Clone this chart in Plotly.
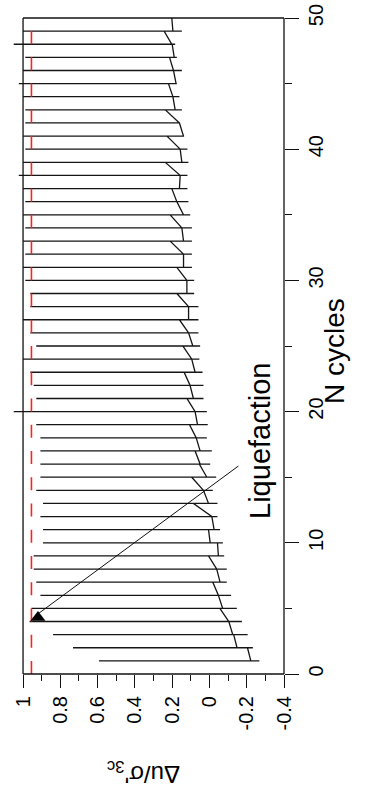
import plotly.graph_objects as go

# ---------------- data ----------------
cycles = list(range(1, 50))
peak = [0.593, 0.732, 0.839, 0.965, 0.955, 0.907, 0.929, 0.943, 0.943, 0.893,
        0.893, 0.907, 0.893, 0.929, 0.907, 0.907, 0.907, 0.907, 0.929, 1.05,
        0.929, 0.943, 0.961, 1.0, 0.929, 0.961, 1.0, 0.961, 0.961, 0.988,
        1.0, 0.988, 1.0, 0.988, 1.0, 0.988, 1.0, 1.023, 1.0, 0.988,
        1.0, 0.988, 0.988, 1.0, 1.023, 1.0, 0.988, 1.05, 1.0]
trough = [-0.268, -0.233, -0.205, -0.174, -0.147, -0.116, -0.093, -0.093, -0.079, -0.072,
          -0.057, -0.043, -0.043, -0.018, -0.036, -0.004, -0.013, 0.014, 0.009, 0.014,
          0.032, 0.032, 0.037, 0.054, 0.050, 0.059, 0.059, 0.059, 0.082, 0.082,
          0.094, 0.094, 0.094, 0.094, 0.103, 0.113, 0.118, 0.118, 0.113, 0.118,
          0.136, 0.171, 0.148, 0.161, 0.175, 0.148, 0.175, 0.184, 0.148]
pre = [-0.222, -0.204, -0.130, -0.104, -0.056, -0.048, -0.018, -0.039, 0.005, -0.043,
       0.005, -0.013, 0.086, 0.032, 0.095, 0.054, 0.077, 0.071, 0.107, 0.077,
       0.121, 0.104, 0.136, 0.095, 0.143, 0.112, 0.161, 0.112, 0.175, 0.121,
       0.175, 0.139, 0.211, 0.148, 0.211, 0.175, 0.202, 0.157, 0.237, 0.157,
       0.228, 0.161, 0.237, 0.196, 0.220, 0.193, 0.214, 0.200, 0.243]
post = [-0.222, -0.148, -0.125, -0.104, -0.071, -0.048, -0.057, -0.039, -0.048, -0.004,
        -0.025, -0.013, 0.005, 0.032, 0.014, 0.050, 0.050, 0.071, 0.064, 0.077,
        0.086, 0.104, 0.077, 0.095, 0.089, 0.112, 0.112, 0.112, 0.121, 0.121,
        0.139, 0.139, 0.139, 0.148, 0.139, 0.175, 0.161, 0.157, 0.148, 0.157,
        0.139, 0.161, 0.184, 0.196, 0.179, 0.193, 0.189, 0.202, 0.196]
end_cycle = [50]
end_value = [0.202]

ref_level = [0.955, 0.955]          # red dashed reference level
ref_cycles = [0, 50]
liq_cycle = [4.31]                  # liquefaction marker
liq_value = [0.92]
arrow_from = (-0.155, 15.85)        # (du, N)
arrow_to = (0.916, 4.62)

x_ticks = [1, 0.8, 0.6, 0.4, 0.2, 0, -0.2, -0.4]
x_ticktext = ["1", "0.8", "0.6", "0.4", "0.2", "0", "-0.2", "-0.4"]
x_minor = [0.9, 0.7, 0.5, 0.3, 0.1, -0.1, -0.3]
y_ticks = [0, 10, 20, 30, 40, 50]
y_ticktext = ["0", "10", "20", "30", "40", "50"]
y_minor = [5, 15, 25, 35, 45]

# ---------------- geometry ----------------
X_LEFT, X_RIGHT = 1.07, -0.4
Y_BOT, Y_TOP = 0, 50
ML, MR, MT, MB = 10, 82, 18, 136
W, H = 366, 810
PW, PH = W - ML - MR, H - MT - MB


def px(v):
    return (X_LEFT - v) / (X_LEFT - X_RIGHT)


def py(n):
    return (n - Y_BOT) / (Y_TOP - Y_BOT)


def ppx(pixel_x):
    return (pixel_x - ML) / PW


def ppy(pixel_y):
    return (H - MB - pixel_y) / PH


# ---------------- build trace ----------------
xs, ys = [], []
for k, a, p, t, b in zip(cycles, pre, peak, trough, post):
    xs += [a, p, t, b]
    ys += [k, k, k, k]
xs += end_value
ys += end_cycle

FONT = "Arial, Liberation Sans, sans-serif"
lc = "#111111"
fig = go.Figure()
fig.add_trace(go.Scatter(x=xs, y=ys, mode="lines",
                         line=dict(color="#151515", width=1.3),
                         hoverinfo="skip", showlegend=False))
fig.add_trace(go.Scatter(x=ref_level, y=ref_cycles, mode="lines",
                         line=dict(color="#ff2020", width=1.6, dash="13.12px,13.12px"),
                         hoverinfo="skip", showlegend=False))
fig.add_trace(go.Scatter(x=liq_value, y=liq_cycle, mode="markers",
                         marker=dict(symbol="triangle-up", size=13, color="black"),
                         cliponaxis=False, hoverinfo="skip", showlegend=False))

shapes = [
    # frame
    dict(type="line", xref="paper", yref="paper", x0=px(1), x1=px(-0.4), y0=py(0), y1=py(0)),
    dict(type="line", xref="paper", yref="paper", x0=px(1), x1=px(-0.4), y0=py(50), y1=py(50)),
    dict(type="line", xref="paper", yref="paper", x0=px(1), x1=px(1), y0=py(0), y1=py(50)),
    dict(type="line", xref="paper", yref="paper", x0=px(-0.4), x1=px(-0.4), y0=py(0), y1=py(50)),
    # arrow to liquefaction point
    dict(type="line", xref="x", yref="y", x0=arrow_from[0], y0=arrow_from[1],
         x1=arrow_to[0], y1=arrow_to[1]),
]
for s in shapes:
    s["line"] = dict(color=lc, width=1.3 if s["xref"] == "paper" else 1)
fig.update_layout(shapes=shapes)

fig.add_annotation(x=-0.271, y=17.76, xref="x", yref="y", text="Liquefaction",
                   textangle=-90, showarrow=False,
                   font=dict(family=FONT, size=29, color="black"))
fig.add_annotation(x=ppx(352), y=ppy(351.5), xref="paper", yref="paper", text="N cycles",
                   textangle=-90, showarrow=False,
                   font=dict(family=FONT, size=28, color="black"))
fig.add_annotation(x=ppx(144), y=ppy(790), xref="paper", yref="paper",
                   text="\u0394u/\u03c3'<sub>3c</sub>",
                   textangle=180, showarrow=False,
                   font=dict(family=FONT, size=24, color="black"))

fig.update_layout(
    width=W, height=H, autosize=False,
    margin=dict(l=ML, r=MR, t=MT, b=MB, pad=0),
    plot_bgcolor="white", paper_bgcolor="white",
    xaxis=dict(range=[X_LEFT, X_RIGHT], tickmode="array", tickvals=x_ticks,
               ticktext=x_ticktext, ticks="outside", ticklen=13, tickwidth=1.3,
               tickcolor=lc, tickangle=-90, showgrid=False, zeroline=False,
               showline=False, automargin=False,
               tickfont=dict(family=FONT, size=20, color="black"),
               minor=dict(tickmode="array", tickvals=x_minor, ticks="outside",
                          ticklen=6, tickwidth=1.3, tickcolor=lc, showgrid=False)),
    yaxis=dict(range=[Y_BOT, Y_TOP], side="right", tickmode="array", tickvals=y_ticks,
               ticktext=y_ticktext, ticks="outside", ticklen=14, tickwidth=1.3,
               tickcolor=lc, tickangle=-90, showgrid=False, zeroline=False,
               showline=False, automargin=False,
               tickfont=dict(family=FONT, size=20, color="black"),
               minor=dict(tickmode="array", tickvals=y_minor, ticks="outside",
                          ticklen=7, tickwidth=1.3, tickcolor=lc, showgrid=False)),
)

fig.write_html("out.html", config={"displayModeBar": False},
               post_script="document.body.style.margin='0px';document.body.style.overflow='hidden';")
